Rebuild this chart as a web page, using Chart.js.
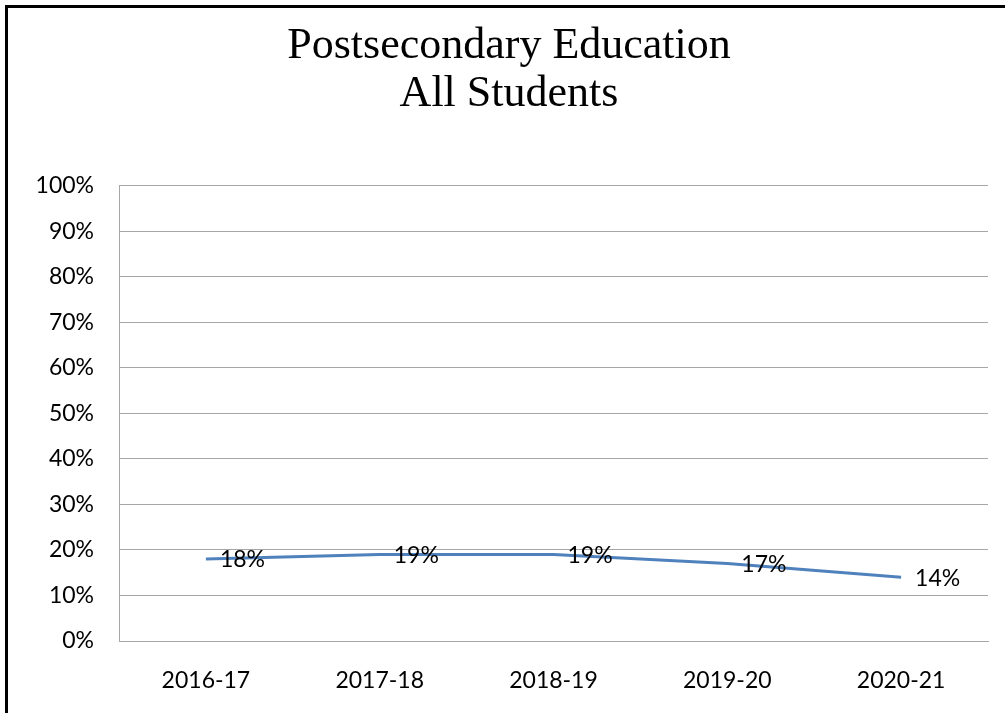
<!DOCTYPE html>
<html>
<head>
<meta charset="utf-8">
<script src="https://cdn.jsdelivr.net/npm/chart.js@4.4.1/dist/chart.umd.min.js"></script>
<style>
    html, body { margin: 0; padding: 0; background: #fff; }
    #wrap { position: relative; width: 1005px; height: 713px; }
    #frame { position: absolute; left: 5px; top: 5px; right: 0; bottom: 0; border-left: 3px solid #000; border-top: 3px solid #000; pointer-events: none; }
</style>
</head>
<body>
<div id="wrap">
    <canvas id="chart" width="1005" height="713"></canvas>
    <div id="frame"></div>
</div>
<script>
// Daten
const years = ['2016-17', '2017-18', '2018-19', '2019-20', '2020-21'];
const allStudents = [18, 19, 19, 17, 14];
const titleLines = ['Postsecondary Education', 'All Students'];

const tickFont = { family: "Lato, 'Open Sans', sans-serif", size: 23 };

// Prozentwerte rechts neben die Punkte schreiben
const pointLabels = {
    id: 'pointLabels',
    afterDatasetsDraw(chart) {
        const { ctx } = chart;
        const meta = chart.getDatasetMeta(0);
        ctx.save();
        ctx.font = '23px Lato, "Open Sans", sans-serif';
        ctx.fillStyle = '#000';
        ctx.textAlign = 'left';
        ctx.textBaseline = 'middle';
        meta.data.forEach((pt, i) => {
            ctx.fillText(allStudents[i] + '%', pt.x + 14, pt.y + 1);
        });
        ctx.restore();
    }
};

new Chart(document.getElementById('chart'), {
    type: 'line',
    data: {
        labels: years,
        datasets: [{
            data: allStudents,
            borderColor: '#4F81BD',
            borderWidth: 3,
            pointRadius: 0,
            tension: 0
        }]
    },
    options: {
        responsive: false,
        animation: false,
        // links 30 + Achsenbreite 89 = 119, Titel rutscht etwas nach rechts
        layout: { padding: { left: 30, right: 17, top: 0, bottom: 0 } },
        plugins: {
            legend: { display: false },
            tooltip: { enabled: false },
            title: {
                display: true,
                text: titleLines,
                color: '#000',
                font: { family: "'Liberation Serif', 'Times New Roman', serif", size: 44, weight: 'normal', lineHeight: 1.1 },
                padding: { top: 22, bottom: 67 }
            }
        },
        scales: {
            x: {
                offset: true,
                grid: { display: false },
                border: { display: true, color: '#a6a6a6', width: 1 },
                ticks: { color: '#000', font: tickFont, padding: 18, maxRotation: 0 },
                afterFit(scale) { scale.height = 72; }
            },
            y: {
                min: 0,
                max: 100,
                ticks: {
                    stepSize: 10,
                    color: '#000',
                    font: tickFont,
                    padding: 25,
                    callback: v => v + '%'
                },
                grid: { color: '#a6a6a6', lineWidth: 1, drawTicks: false },
                border: { display: true, color: '#a6a6a6', width: 1 },
                afterFit(scale) { scale.width = 89; }
            }
        }
    },
    plugins: [pointLabels]
});
</script>
</body>
</html>
